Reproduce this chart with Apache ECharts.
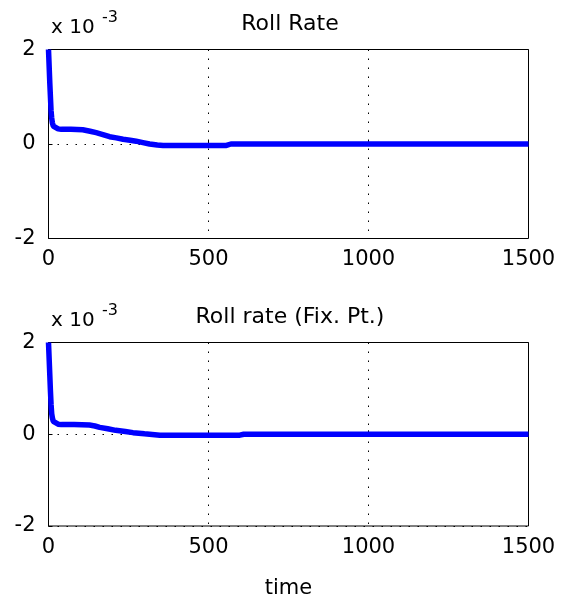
<!DOCTYPE html>
<html><head><meta charset="utf-8">
<script src="https://cdn.jsdelivr.net/npm/echarts@6/dist/echarts.min.js"></script>
<style>html,body{margin:0;padding:0;background:#fff}#c{width:568px;height:600px}</style>
</head><body><div id="c"></div>
<script>
// values in units of 1e-3
const timeTop = [0, 2, 4, 6, 8, 10, 12, 15, 20, 30, 40, 70, 107, 130, 149, 170, 191, 212, 233, 255, 274, 295, 316, 340, 358, 450, 556, 570, 800, 1000, 1200, 1500];
const rollTop = [2.0, 1.65, 1.3, 1.0, 0.7, 0.55, 0.45, 0.38, 0.34, 0.32, 0.31, 0.31, 0.3, 0.27, 0.24, 0.2, 0.155, 0.13, 0.1, 0.08, 0.06, 0.03, 0.0, -0.02, -0.03, -0.03, -0.03, 0.0, 0.0, 0.0, 0.0, 0.0];
const timeBot = [0, 2, 4, 6, 8, 10, 12, 15, 20, 30, 40, 80, 128, 145, 160, 185, 210, 240, 264, 300, 348, 450, 598, 610, 800, 1000, 1200, 1500];
const rollBot = [2.0, 1.65, 1.3, 0.95, 0.65, 0.45, 0.36, 0.28, 0.24, 0.22, 0.21, 0.21, 0.2, 0.18, 0.15, 0.12, 0.085, 0.06, 0.035, 0.01, -0.02, -0.02, -0.02, 0.0, 0.0, 0.0, 0.0, 0.0];
const xTicks = [0, 500, 1000, 1500];
const yTicks = [-2, 0, 2];
const titles = ['Roll Rate', 'Roll rate (Fix. Pt.)'];
const xLabel = 'time';
const scaleText = ['x 10', '-3'];

const FONT = 'DejaVu Sans';
const pair = (t, v) => t.map((x, i) => [x, v[i]]);
const chart = echarts.init(document.getElementById('c'));
const mkX = (gi, name) => ({
  type: 'value', gridIndex: gi, min: xTicks[0], max: xTicks[xTicks.length - 1], interval: 500,
  axisLine: {show: false}, axisTick: {show: true, inside: true, length: 4, lineStyle: {color: '#000'}},
  axisLabel: {color: '#000', fontFamily: FONT, fontSize: 21, margin: 11, showMinLabel: true, showMaxLabel: true,
              formatter: v => String(v)},
  splitLine: {show: true, lineStyle: {color: '#000', type: [1.5, 7.5], width: 1}},
  name: name, nameLocation: 'middle', nameGap: 52,
  nameTextStyle: {color: '#000', fontFamily: FONT, fontSize: 21}
});
const mkY = (gi) => ({
  type: 'value', gridIndex: gi, min: yTicks[0], max: yTicks[yTicks.length - 1], interval: 2,
  axisLine: {show: false}, axisTick: {show: true, inside: true, length: 4, lineStyle: {color: '#000'}},
  axisLabel: {color: '#000', fontFamily: FONT, fontSize: 21, margin: 13, formatter: v => String(v)},
  splitLine: {show: true, lineStyle: {color: '#000', type: [1.5, 7.5], width: 1}}
});
const mkTitle = (text, left, top, size, align) => ({
  text, left, top, textAlign: align || 'left',
  textStyle: {color: '#000', fontFamily: FONT, fontSize: size, fontWeight: 'normal'}
});
chart.setOption({
  animation: false,
  backgroundColor: '#fff',
  title: [
    mkTitle(titles[0], 285, 8, 22, 'center'),
    mkTitle(titles[1], 285, 301, 22, 'center'),
    mkTitle(scaleText[0], 46, 13, 20),
    mkTitle(scaleText[1], 97, 5, 16),
    mkTitle(scaleText[0], 46, 306, 20),
    mkTitle(scaleText[1], 97, 298, 16)
  ],
  grid: [
    {left: 48.5, right: 39.5, top: 49.5, height: 189, show: true, borderColor: '#000', borderWidth: 1, backgroundColor: '#fff'},
    {left: 48.5, right: 39.5, top: 342.5, height: 189, show: true, borderColor: '#000', borderWidth: 1, backgroundColor: '#fff'}
  ],
  xAxis: [mkX(0, ''), mkX(1, xLabel)],
  yAxis: [mkY(0), mkY(1)],
  series: [
    {type: 'line', xAxisIndex: 0, yAxisIndex: 0, data: pair(timeTop, rollTop), showSymbol: false,
     lineStyle: {color: '#0000ff', width: 5.5}, clip: true},
    {type: 'line', xAxisIndex: 1, yAxisIndex: 1, data: pair(timeBot, rollBot), showSymbol: false,
     lineStyle: {color: '#0000ff', width: 5.5}, clip: true}
  ]
});
</script></body></html>
